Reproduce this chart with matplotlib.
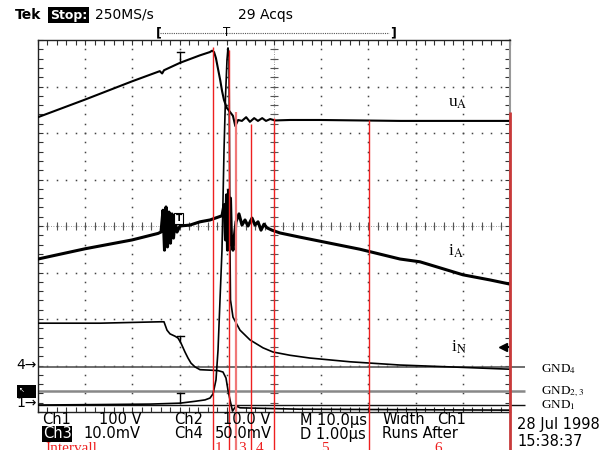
import numpy as np
import matplotlib
matplotlib.use("Agg")
import matplotlib.pyplot as plt
from matplotlib.lines import Line2D
from matplotlib.patches import Rectangle

plt.rcParams['mathtext.fontset'] = 'stix'

# ---------------- data (time in µs, level in divisions) ----------------
ua_t = [0, 10.0, 19.9, 25.8, 26.3, 26.7, 30.1, 34.3, 36.4, 36.9, 37.3, 37.7,
        38.1, 38.6, 39.0, 39.4, 40.0, 40.7, 41.3, 41.8, 42.4, 43.2, 44.1, 44.9,
        45.8, 46.6, 47.5, 48.3, 49.2, 50.2, 53.4, 59.7, 76.7, 100]
ua_v = [6.34, 6.72, 7.11, 7.33, 7.28, 7.35, 7.51, 7.67, 7.74, 7.77, 7.74, 7.61,
        7.40, 7.14, 6.90, 6.71, 6.54, 6.45, 6.37, 6.15, 6.28, 6.26, 6.34, 6.24,
        6.32, 6.26, 6.32, 6.26, 6.30, 6.27, 6.28, 6.28, 6.26, 6.26]

ia_t = [0, 9.96, 19.92, 25.42, 26.06, 26.48, 26.80, 27.12, 27.44, 27.75,
        28.07, 28.39, 28.71, 29.03, 29.45, 30.08, 32.20, 34.32, 36.44, 38.14,
        38.98, 39.41, 39.72, 39.94, 40.15, 40.36, 40.57, 40.78, 40.99, 41.31,
        41.63, 41.95, 42.58, 43.22, 43.86, 44.49, 45.34, 45.97, 46.61, 47.25,
        47.88, 48.52, 49.58, 51.27, 55.51, 61.86, 68.22, 76.69, 80.93, 85.17,
        90.04, 95.76, 100]
ia_v = [3.29, 3.51, 3.70, 3.84, 3.87, 4.34, 3.48, 4.41, 3.55, 4.30,
        3.63, 4.26, 3.74, 4.13, 3.87, 4.00, 4.02, 4.09, 4.13, 4.19,
        4.22, 4.46, 3.70, 4.67, 3.48, 4.77, 3.59, 4.60, 3.70, 3.48,
        3.81, 4.09, 4.26, 4.02, 4.13, 4.00, 4.17, 4.02, 4.09, 3.91,
        4.04, 3.96, 3.91, 3.85, 3.76, 3.63, 3.50, 3.29, 3.23, 3.10,
        2.95, 2.84, 2.75]

in_t = [0, 13.14, 23.73, 30.08, 33.26, 35.38, 36.44, 37.08, 37.71, 38.14,
        38.56, 38.98, 39.41, 39.72, 40.04, 40.25, 40.47, 40.57, 40.68, 40.78,
        41.31, 42.80, 44.92, 47.67, 49.79, 53.39, 57.63, 66.10, 76.69, 87.29, 100]
in_v = [0.15, 0.16, 0.17, 0.19, 0.23, 0.26, 0.30, 0.39, 0.69, 1.33,
        2.41, 3.48, 5.63, 6.77, 7.57, 7.83, 7.68, 5.63, 3.48, 2.41,
        2.04, 1.76, 1.55, 1.38, 1.29, 1.22, 1.16, 1.08, 1.01, 0.97, 0.92]

ch2_t = [0, 13.14, 25.85, 26.69, 27.33, 27.97, 29.03, 29.66, 30.30, 31.14,
         31.78, 32.42, 33.26, 34.32, 36.44, 38.14, 39.19, 39.83, 40.25, 40.68,
         41.21, 41.95, 42.80, 55.51, 76.69, 100]
ch2_v = [1.91, 1.91, 1.94, 1.94, 1.76, 1.68, 1.63, 1.59, 1.48, 1.29,
         1.16, 1.05, 0.97, 0.91, 0.90, 0.89, 0.86, 0.73, 0.47, 0.26,
         0.02, 0.13, 0.09, 0.06, 0.05, 0.04]

gnd_levels = [0.97, 0.45, 0.15]
gnd_labels = [r'GND$_4$', r'GND$_{2,3}$', r'GND$_1$']

cursor_t = [37.1, 40.5, 42.0, 45.1, 50.0, 70.1, 100.0]
cursor_top = [7.85, 7.78, 6.45, 6.19, 6.32, 6.28, 6.45]
interval_labels = ['1', '3', '4', '5', '6']

trigger_t = 30.1
trigger_level = 1.40

# ---------------- figure ----------------
W, H = 610, 450
fig = plt.figure(figsize=(W / 100, H / 100), dpi=100)
L, R, T, B = 38, 510, 40, 412
ax = fig.add_axes([L / W, 1 - B / H, (R - L) / W, (B - T) / H])
ax.set_xlim(0, 100)
ax.set_ylim(0, 8)
pxx = (R - L) / 100.0   # px per µs
pxy = (B - T) / 8.0     # px per div


def fx(x):
    return x / W


def fy(y):
    return 1 - y / H


# graticule
ax.set_xticks([])
ax.set_yticks([])
ax.set_xticks(np.arange(0, 100.01, 2), minor=True)
ax.set_yticks(np.arange(0, 8.01, 0.2), minor=True)
ax.tick_params(which='minor', direction='in', length=3.5, width=0.8,
               top=True, right=True, bottom=True, left=True,
               labelbottom=False, labelleft=False, color='#333')
for s in ['left', 'top', 'bottom']:
    ax.spines[s].set_color('#222')
    ax.spines[s].set_linewidth(1.0)
ax.spines['right'].set_color('#999')
ax.spines['right'].set_linewidth(1.5)

dots_y = np.arange(0, 8.01, 0.2)
dots_x = np.arange(0, 100.01, 2)
for k in range(1, 10):
    ax.plot(np.full_like(dots_y, 10 * k), dots_y, ls='none', marker='s',
            ms=1.1, mew=0, color='#444', zorder=1)
for k in range(1, 8):
    ax.plot(dots_x, np.full_like(dots_x, k), ls='none', marker='s',
            ms=1.1, mew=0, color='#444', zorder=1)
# centre lines
ax.axvline(50, color='#777', lw=0.6, ls=(0, (1, 2)), zorder=1)
ax.axhline(4, color='#777', lw=0.6, ls=(0, (1, 2)), zorder=1)
ax.plot(np.full_like(dots_y, 50), dots_y, ls='none', marker='_', ms=6,
        mew=0.8, color='#555', zorder=1)
ax.plot(dots_x, np.full_like(dots_x, 4), ls='none', marker='|', ms=6,
        mew=0.8, color='#555', zorder=1)

# ground reference lines
ax.hlines(gnd_levels, 0, (525 - L) / pxx, colors=['#555', '#888', '#111'],
          linewidths=[1.2, 1.8, 1.0], clip_on=False, zorder=2)

# traces
ax.plot(ua_t, ua_v, color='k', lw=1.5, zorder=3)
ax.plot(ia_t, ia_v, color='k', lw=2.2, zorder=3)
ax.plot(in_t, in_v, color='k', lw=1.2, zorder=3)
ax.plot(ch2_t, ch2_v, color='k', lw=1.2, zorder=3)


# T markers
def t_marker(tt, tv, stem_px):
    v0 = np.interp(trigger_t, tt, tv)
    dv = stem_px / pxy
    dt = 3.5 / pxx
    ax.plot([trigger_t, trigger_t], [v0, v0 + dv], color='k', lw=1.0, zorder=4)
    ax.plot([trigger_t - dt, trigger_t + dt], [v0 + dv, v0 + dv], color='k',
            lw=1.0, zorder=4)


t_marker(ua_t, ua_v, 11)
t_marker(ch2_t, ch2_v, 6)
t_marker(in_t, in_v, 10)
v_ia = np.interp(trigger_t, ia_t, ia_v)
ax.text(trigger_t - 0.3, v_ia + 0.16, 'T', fontsize=6.5, ha='center', va='center',
        fontweight='bold', family='DejaVu Sans', zorder=4,
        bbox=dict(boxstyle='square,pad=0.15', fc='white', ec='black', lw=0.8))

# red cursor lines
ax.vlines(cursor_t, -1.5, cursor_top,
          colors=['#ee2020', '#ee2020', '#f07878', '#ee2020', '#ee2020', '#ee2020', '#c83a3a'],
          linewidths=[1.0, 1.0, 1.6, 1.0, 1.0, 1.0, 2.0], clip_on=False, zorder=5)

# trigger level arrow
ax.plot([98.5], [trigger_level], marker='<', ms=6, color='k', clip_on=False, zorder=6)
ax.plot([98.5, 99.6], [trigger_level, trigger_level], color='k', lw=1.5,
        clip_on=False, zorder=6)

# trace labels
lab = dict(family='Liberation Serif', fontsize=12.5, color='k')
fig.text(fx(448), fy(107), r'u$_{\mathrm{A}}$', va='baseline', **lab)
fig.text(fx(448), fy(256), r'i$_{\mathrm{A}}$', va='baseline', **lab)
fig.text(fx(451), fy(352), r'i$_{\mathrm{N}}$', va='baseline', **lab)

gl = dict(family='Liberation Serif', fontsize=9.5, color='k', va='baseline')
for lbl, yb in zip(gnd_labels, [372, 394, 408]):
    fig.text(fx(541), fy(yb), lbl, **gl)

# left channel markers
sans = dict(family='DejaVu Sans', color='k')
fig.text(fx(37), fy(365), '4\u2192', ha='right', va='center', fontsize=10, **sans)
fig.text(fx(37), fy(403), '1\u2192', ha='right', va='center', fontsize=10, **sans)
fig.patches.append(Rectangle((fx(17), fy(398)), (36 - 17) / W, 13 / H,
                             transform=fig.transFigure, fc='black', ec='none'))
fig.text(fx(22), fy(390), '\u2196', color='white', fontsize=5, ha='center',
         va='center', family='DejaVu Sans')

# top status line
fig.text(fx(15), fy(15), 'Tek', fontsize=10, fontweight='bold', va='center', **sans)
fig.text(fx(50), fy(15), 'Stop:', fontsize=9, fontweight='bold', va='center',
         family='DejaVu Sans', color='white',
         bbox=dict(boxstyle='square,pad=0.12', fc='black', ec='none'))
fig.text(fx(95), fy(15), '250MS/s', fontsize=10, va='center', **sans)
fig.text(fx(238), fy(15), '29 Acqs', fontsize=10, va='center', **sans)
fig.text(fx(156), fy(33), '[', fontsize=9, fontweight='bold', va='center', **sans)
fig.text(fx(227), fy(33), 'T', fontsize=8.5, ha='center', va='center', **sans)
fig.text(fx(390), fy(33), ']', fontsize=9, fontweight='bold', va='center', **sans)
fig.add_artist(Line2D([fx(160), fx(389)], [fy(32.5), fy(32.5)], color='#555',
                      lw=0.8, ls=(0, (1, 1)), transform=fig.transFigure))

# bottom readout
bt = dict(fontsize=10.5, va='center', **sans)
row1 = [('Ch1', 42), ('100 V', 99), ('Ch2', 174), ('10.0 V', 223),
        ('M 10.0\u00b5s', 300), ('Width', 383), ('Ch1', 437)]
row2 = [('10.0mV', 83), ('Ch4', 174), ('50.0mV', 215),
        ('D 1.00\u00b5s', 300), ('Runs After', 382)]
for s, x in row1:
    fig.text(fx(x), fy(420), s, **bt)
for s, x in row2:
    fig.text(fx(x), fy(434), s, **bt)
fig.text(fx(43), fy(434), 'Ch3', fontsize=10.5, va='center', family='DejaVu Sans',
         color='white', bbox=dict(boxstyle='square,pad=0.05', fc='black', ec='none'))
fig.text(fx(517), fy(424), '28 Jul 1998', fontsize=10.5, va='center', **sans)
fig.text(fx(517), fy(442), '15:38:37', fontsize=10.5, va='center', **sans)

# red interval labels (cut at the bottom edge)
rl = dict(family='Liberation Serif', fontsize=11, color='#ee2020', va='top')
fig.text(fx(45), fy(442), 'Intervall', **rl)
for s, x in zip(interval_labels, [218, 242, 260, 325, 438]):
    fig.text(fx(x), fy(442), s, ha='center', **rl)

fig.savefig('out.png', dpi=100, facecolor='white')
